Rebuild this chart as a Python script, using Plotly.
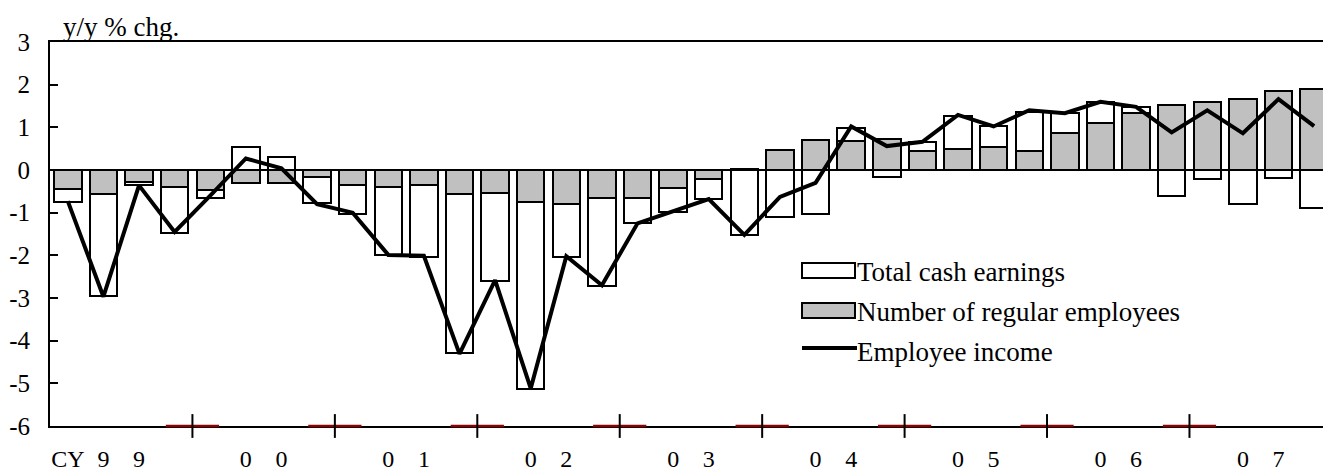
import plotly.graph_objects as go

# ---- data (quarterly, 1999Q1 .. 2007Q4), y/y % chg ----
years = [1999, 2000, 2001, 2002, 2003, 2004, 2005, 2006, 2007]

employees = [
    -0.45, -0.57, -0.29, -0.41,   # 1999
    -0.47, -0.30, -0.30, -0.16,   # 2000
    -0.34, -0.39, -0.34, -0.56,   # 2001
    -0.53, -0.76, -0.80, -0.65,   # 2002
    -0.65, -0.43, -0.20, 0.03,    # 2003
    0.47, 0.70, 0.68, 0.72,       # 2004
    0.45, 0.49, 0.55, 0.45,       # 2005
    0.86, 1.11, 1.34, 1.52,       # 2006
    1.59, 1.66, 1.84, 1.91,       # 2007
]

cash_earnings = [
    -0.31, -2.38, -0.05, -1.06,
    -0.19, 0.55, 0.31, -0.61,
    -0.68, -1.60, -1.69, -3.74,
    -2.07, -4.38, -1.25, -2.06,
    -0.60, -0.55, -0.48, -1.52,
    -1.09, -1.02, 0.31, -0.17,
    0.21, 0.78, 0.47, 0.92,
    0.47, 0.49, 0.13, -0.60,
    -0.20, -0.80, -0.18, -0.90,
]

employee_income = [
    -0.73, -2.97, -0.36, -1.45,
    -0.60, 0.27, 0.04, -0.80,
    -1.00, -1.99, -2.01, -4.31,
    -2.58, -5.12, -2.02, -2.70,
    -1.25, -0.97, -0.68, -1.52,
    -0.63, -0.30, 1.02, 0.56,
    0.66, 1.29, 1.02, 1.40,
    1.33, 1.60, 1.48, 0.88,
    1.40, 0.86, 1.66, 1.03,
]

# one label per quarter (the year digits sit under Q2 and Q3)
tick_text = [
    "CY", "9", "9", "",
    "", "0", "0", "",
    "", "0", "1", "",
    "", "0", "2", "",
    "", "0", "3", "",
    "", "0", "4", "",
    "", "0", "5", "",
    "", "0", "6", "",
    "", "0", "7", "",
]

y_ticks = [3, 2, 1, 0, -1, -2, -3, -4, -5, -6]

x = list(range(len(employees)))
boundaries = [4 * i - 0.5 for i in range(1, len(years))]

FONT = "Liberation Serif, Times New Roman, serif"

fig = go.Figure()

fig.add_trace(go.Bar(
    x=x, y=employees, name="Number of regular employees",
    marker=dict(color="#c0c0c0", line=dict(color="black", width=2)),
    width=0.77, showlegend=False,
))
fig.add_trace(go.Bar(
    x=x, y=cash_earnings, name="Total cash earnings",
    marker=dict(color="white", line=dict(color="black", width=2)),
    width=0.77, showlegend=False,
))
fig.add_trace(go.Scatter(
    x=x, y=employee_income, name="Employee income", mode="lines",
    line=dict(color="black", width=4), showlegend=False,
))

# year-boundary tick marks on the bottom axis
fig.add_trace(go.Scatter(
    x=boundaries, y=[y_ticks[-1]] * len(boundaries), mode="markers",
    marker=dict(symbol="line-ew", size=38, line=dict(color="#8b0000", width=2.5)),
    cliponaxis=False, showlegend=False, hoverinfo="skip",
))
fig.add_trace(go.Scatter(
    x=boundaries, y=[y_ticks[-1]] * len(boundaries), mode="markers",
    marker=dict(symbol="line-ns", size=17, line=dict(color="black", width=2)),
    cliponaxis=False, showlegend=False, hoverinfo="skip",
))

# ---- hand-drawn legend (paper coords) ----
W, H, L, T = 1273.0, 384.0, 50.0, 42.0
def px(xp):
    return (xp - L) / W
def py(yp):
    return (T + H - yp) / H

legend_items = [
    ("Total cash earnings", "white", 263, 278, 272),
    ("Number of regular employees", "#c0c0c0", 303, 318, 312),
]
for name, fill, y_top, y_bot, y_txt in legend_items:
    fig.add_shape(type="rect", xref="paper", yref="paper",
                  x0=px(802), x1=px(855), y0=py(y_bot), y1=py(y_top),
                  fillcolor=fill, line=dict(color="black", width=2))
    fig.add_annotation(xref="paper", yref="paper", x=px(855), y=py(y_txt),
                       text=name, showarrow=False, xanchor="left", yanchor="middle",
                       font=dict(family=FONT, size=27, color="black"))
fig.add_shape(type="line", xref="paper", yref="paper",
              x0=px(802), x1=px(857), y0=py(348), y1=py(348),
              line=dict(color="black", width=4))
fig.add_annotation(xref="paper", yref="paper", x=px(855), y=py(352),
                   text="Employee income", showarrow=False, xanchor="left", yanchor="middle",
                   font=dict(family=FONT, size=27, color="black"))

fig.add_annotation(xref="paper", yref="paper", x=px(61), y=py(27),
                   text="y/y % chg.", showarrow=False, xanchor="left", yanchor="middle",
                   font=dict(family=FONT, size=27, color="black"))

fig.update_layout(
    width=1323, height=472, autosize=False,
    margin=dict(l=50, r=0, t=42, b=46, autoexpand=False),
    paper_bgcolor="white", plot_bgcolor="white",
    barmode="relative", bargap=0,
    font=dict(family=FONT, size=25, color="black"),
    xaxis=dict(
        range=[-0.5, 35.25], tickmode="array", tickvals=x, ticktext=tick_text,
        ticks="", showgrid=False, zeroline=False, automargin=False,
        showline=True, linecolor="black", linewidth=2, mirror=True,
        ticklabelstandoff=10, layer="below traces",
        tickfont=dict(family=FONT, size=24, color="black"),
    ),
    yaxis=dict(
        range=[-6, 3], tickmode="array", tickvals=y_ticks,
        ticktext=[str(v) for v in y_ticks], automargin=False,
        ticks="inside", ticklen=8, tickwidth=2, tickcolor="black",
        showgrid=False, zeroline=True, zerolinecolor="black", zerolinewidth=2,
        showline=True, linecolor="black", linewidth=2,
        ticklabelstandoff=13, layer="below traces",
        tickfont=dict(family=FONT, size=25, color="black"),
    ),
)

fig.write_html(
    "out.html",
    config={"displayModeBar": False},
    post_script="document.body.style.margin='0px';document.body.style.overflow='hidden';",
)
